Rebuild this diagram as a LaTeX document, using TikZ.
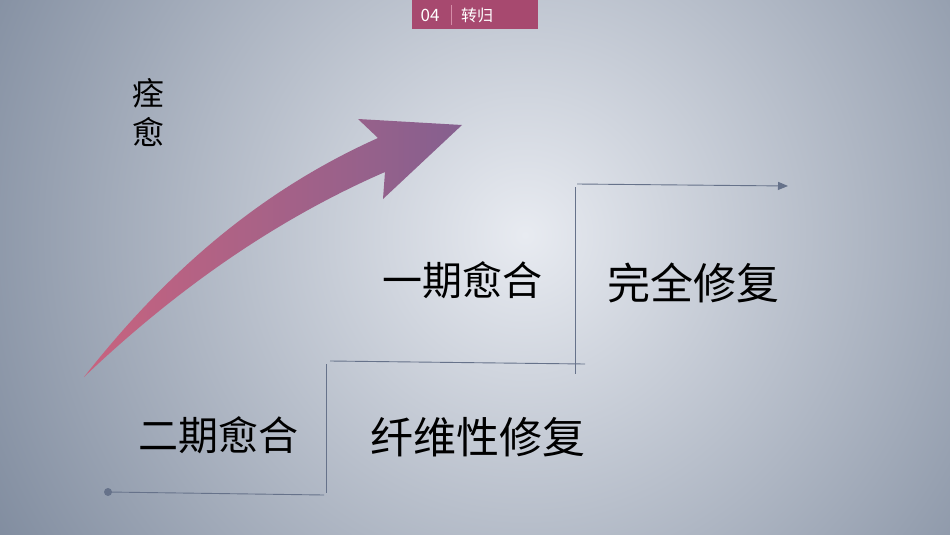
\documentclass[tikz,border=0pt]{standalone}
\usepackage{fontspec}
\setmainfont{Noto Sans CJK SC}
\usetikzlibrary{arrows.meta}
\definecolor{bgin}{HTML}{E8EBF1}
\definecolor{bgout}{HTML}{7F8B9E}
\definecolor{tabred}{HTML}{A7496F}
\definecolor{tabrule}{HTML}{D58DA8}
\definecolor{stepcol}{HTML}{66728A}
\definecolor{arrowpink}{HTML}{C8637F}
\definecolor{arrowpurple}{HTML}{85608F}
\tikzset{
  stepline/.style={draw=stepcol, line width=0.9pt},
  stagetext/.style={text=black, inner sep=0pt, font=\fontsize{#1}{#1}\selectfont},
}
\begin{document}
\begin{tikzpicture}[x=1pt,y=-1pt]
                \useasboundingbox (0,0) rectangle (950,535);
                % Drawing background
                \begin{scope}
                \clip (0,0) rectangle (950,535);
                \shade [inner color=bgin, outer color=bgout] (525,235) circle (620);
                \end{scope}

                % Drawing tab at the top
                \fill [tabred] (412,0) rectangle (538,29);
                \draw [tabrule, line width=0.6pt] (451,5) -- (451,25);
                \node [text=white, inner sep=0pt, font=\fontsize{17}{17}\selectfont] (tabnum) at (430,15) {04};
                \node [text=white, inner sep=0pt, font=\fontsize{16}{16}\selectfont] (tabtitle) at (477,15) {转归};

                % Drawing vertical label
                \node [stagetext=32] (quan) at (148,93) {痊};
                \node [stagetext=32] (yu) at (148,132) {愈};

                % Drawing rising arrow
                \shade [left color=arrowpink, right color=arrowpurple]
                    (84,377) .. controls (168,270) and (262,190) .. (378,138)
                    -- (358,119) -- (462,125) -- (383,199) -- (385,172)
                    .. controls (284,216) and (184,282) .. (84,377) -- cycle;

                % Drawing step lines
                \coordinate (s0) at (108,492);
                \coordinate (s1) at (324,495);
                \coordinate (s2) at (326,364);
                \coordinate (s3) at (326,493);
                \coordinate (s4) at (330,361);
                \coordinate (s5) at (585,364);
                \coordinate (s6) at (575,187);
                \coordinate (s7) at (575,374);
                \coordinate (s8) at (577,184);
                \coordinate (s9) at (788,186);
                \fill [stepcol] (s0) circle (4);
                \draw [stepline] (s0) -- (s1);
                \draw [stepline] (s2) -- (s3);
                \draw [stepline] (s4) -- (s5);
                \draw [stepline] (s6) -- (s7);
                \draw [stepline, -{Triangle[length=10pt,width=8pt]}] (s8) -- (s9);

                % Marking stages
                \node [stagetext=40] (second) at (218,435) {二期愈合};
                \node [stagetext=43] (fibrous) at (478,437) {纤维性修复};
                \node [stagetext=40] (first) at (462,280) {一期愈合};
                \node [stagetext=43] (full) at (693,283) {完全修复};
\end{tikzpicture}
\end{document}
